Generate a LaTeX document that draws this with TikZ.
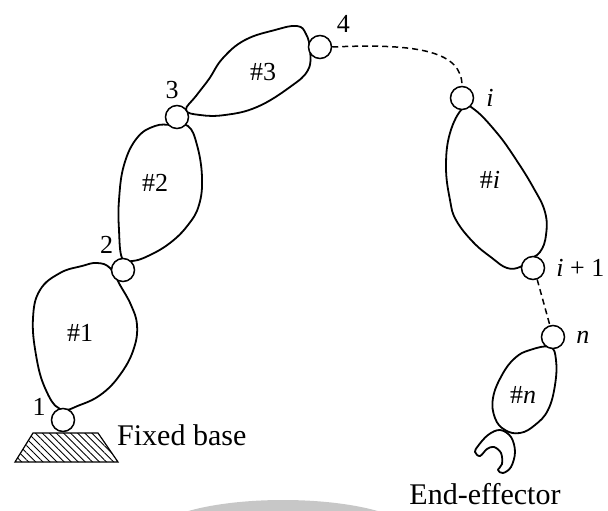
\documentclass[tikz,border=0pt]{standalone}
\usepackage{fontspec}
\setmainfont{Liberation Serif}
\usetikzlibrary{positioning,patterns.meta}

\begin{document}
\begin{tikzpicture}[
    x=1pt, y=-1pt,
    link/.style={draw, line width=1.8pt, line join=round},
    joint/.style={draw, circle, fill=white, line width=1.5pt, minimum size=23pt, inner sep=0pt},
    lbl/.style={font=\fontsize{26}{30}\selectfont, inner sep=1pt},
    capt/.style={font=\fontsize{30}{36}\selectfont, inner sep=0pt},
    openlink/.style={line width=1.5pt, dash pattern=on 6pt off 4pt}
]
    \useasboundingbox (0,0) rectangle (608,511);

    % Shaded arc along the bottom edge
    \begin{scope}
        \clip (0,0) rectangle (608,511);
        \fill[black!22] (283,535) ellipse [x radius=130, y radius=35];
    \end{scope}

    % Links
    \draw[link] plot[smooth cycle, tension=0.7] coordinates {(60,409) (45,388) (36,355) (33,318) (40,290) (60,273) (82,266) (97,263) (110,268) (120,285) (131,305) (137,325) (134,348) (122,372) (103,393) (80,405)};
    \draw[link] plot[smooth cycle, tension=0.7] coordinates {(122,258) (119,230) (119,200) (124,165) (137,138) (155,126) (172,125) (188,126) (197,145) (202,177) (199,205) (188,225) (170,243) (148,256) (132,261)};
    \draw[link] plot[smooth cycle, tension=0.7] coordinates {(186,110) (196,96) (209,79) (223,58) (245,40) (275,30) (297,26) (306,34) (310,50) (308,70) (290,87) (257,107) (225,115) (200,115)};
    \draw[link] plot[smooth cycle, tension=0.7] coordinates {(463,108) (450,133) (446,167) (450,200) (456,220) (473,242) (492,258) (507,268) (520,267) (528,260) (540,252) (546,235) (545,212) (533,187) (515,158) (497,133) (475,110)};
    \draw[link] plot[smooth cycle, tension=0.7] coordinates {(550,347) (530,350) (515,358) (502,375) (493,398) (495,418) (505,430) (520,433) (535,425) (548,410) (555,385) (556,360)};

    % Gripper
    \draw[link, fill=white] plot[smooth cycle, tension=0.6] coordinates {(500,430) (488,435) (478,446) (475,452) (480,456) (487,449) (494,447) (501,453) (502,464) (498,470) (503,473) (511,467) (515,452) (511,437)};

    % Fixed base
    \draw[line width=1.2pt, pattern={Lines[angle=-45, distance=5pt, line width=0.9pt]}] (33,433) -- (98,433) -- (118,462) -- (15,462) -- cycle;

    % Joints
    \node[joint] (j1) at (63,420) {};
    \node[joint] (j2) at (123,270) {};
    \node[joint] (j3) at (177,117) {};
    \node[joint] (j4) at (320,47) {};
    \node[joint] (ji) at (462,98) {};
    \node[joint] (jip) at (533,268) {};
    \node[joint] (jn) at (553,337) {};

    % Omitted links
    \draw[openlink] (j4.east) .. controls (420,43) and (462,52) .. (ji.north);
    \draw[openlink] (jip.-70) -- (jn.105);

    % Joint numbers
    \node[lbl, left=4pt of j1, yshift=13pt] (n1) {1};
    \node[lbl, above left=7pt and 0pt of j2] (n2) {2};
    \node[lbl, above=5pt of j3, xshift=-5pt] (n3) {3};
    \node[lbl, above right=5pt and 7pt of j4] (n4) {4};
    \node[lbl, right=11pt of ji] (ni) {\textit{i}};
    \node[lbl, right=10pt of jip] (nip) {\textit{i} + 1};
    \node[lbl, right=10pt of jn] (nn) {\textit{n}};

    % Link numbers
    \node[lbl] (l1) at (80,333) {\#1};
    \node[lbl] (l2) at (155,183) {\#2};
    \node[lbl] (l3) at (263,72) {\#3};
    \node[lbl] (li) at (490,180) {\#\textit{i}};
    \node[lbl] (ln) at (523,395) {\#\textit{n}};

    % Captions
    \node[capt, anchor=base west] (base) at (117,445) {Fixed base};
    \node[capt, anchor=base] (eff) at (485,504) {End-effector};

\end{tikzpicture}
\end{document}
